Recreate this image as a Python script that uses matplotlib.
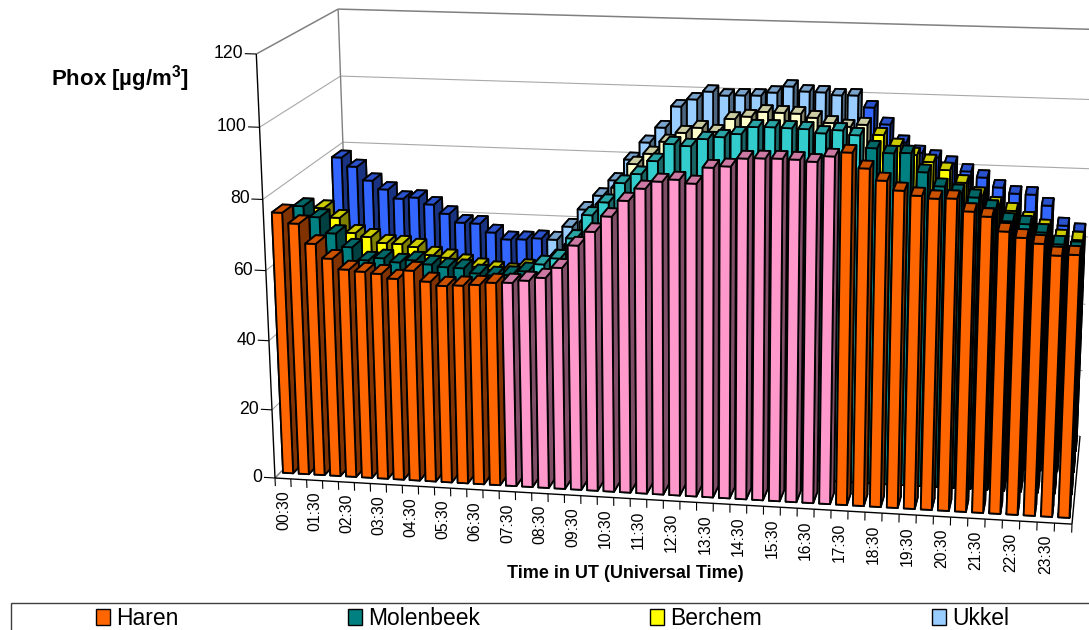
import numpy as np
import matplotlib
matplotlib.use('Agg')
import matplotlib.pyplot as plt
from matplotlib.patches import Patch, Rectangle
from mpl_toolkits.mplot3d.art3d import Line3DCollection

plt.rcParams['font.family'] = ['Liberation Sans', 'DejaVu Sans']
plt.rcParams['mathtext.fontset'] = 'custom'
plt.rcParams['mathtext.bf'] = 'Liberation Sans:bold'

# ---- data (µg/m³, one value per half hour, 00:30 ... 24:00) ----
haren = [75.3,72.4,66.9,62.9,60.0,59.6,59.2,58.0,60.5,57.6,56.6,56.9,57.3,58.1,58.3,59.1,60.1,63.1,69.5,73.5,77.9,82.4,85.9,88.0,88.7,87.8,92.3,92.8,95.1,95.3,95.4,95.3,94.9,96.5,97.7,93.6,90.5,88.0,86.8,86.2,86.4,83.1,81.9,78.1,76.6,75.2,72.2,72.6]
molenbeek = [72.7,69.7,65.2,61.4,57.8,58.6,57.6,58.4,57.4,56.8,56.7,55.4,55.0,55.3,56.6,58.8,60.7,66.6,73.4,77.2,82.8,85.5,89.3,94.2,93.8,95.9,96.6,97.6,99.7,99.8,99.7,99.6,98.6,99.6,98.4,95.0,93.8,94.0,88.9,85.2,83.7,82.5,79.7,76.3,75.7,73.6,70.5,69.1]
berchem = [67.7,65.0,60.7,59.7,58.1,58.0,57.3,55.1,54.5,53.2,52.2,51.5,51.1,52.5,53.3,55.8,59.8,66.7,71.9,77.0,84.0,87.1,90.7,93.4,95.0,94.0,97.8,98.6,100.1,100.0,99.9,98.9,97.6,96.7,97.4,94.7,91.8,89.4,87.6,85.5,82.1,78.8,76.2,74.7,72.3,70.3,67.6,67.2]
ukkel = [78.5,75.9,71.9,69.4,66.8,67.3,65.4,62.8,60.3,60.2,57.7,55.8,56.0,56.5,56.3,60.4,65.7,70.0,74.7,81.0,86.2,90.7,97.0,99.2,101.6,100.6,100.8,100.9,101.9,103.8,102.5,102.4,101.7,101.8,98.5,93.8,88.8,86.0,84.8,83.2,81.1,79.5,76.8,75.2,75.1,72.1,66.5,65.0]
series_names = ['Haren', 'Molenbeek', 'Berchem', 'Ukkel']
series_values = [haren, molenbeek, berchem, ukkel]
base_colors = ['#FF6600', '#008080', '#FFFF00', '#3366FF']
day_colors = ['#FF99CC', '#33CCCC', '#FFFFCC', '#99CCFF']
day_ranges = [(14, 33), (15, 34), (15, 34), (14, 33)]
legend_colors = ['#FF6600', '#008080', '#FFFF00', '#99CCFF']
y_ticks = list(range(0, 121, 20))
x_labels = [f'{h:02d}:30' for h in range(24)]

# ---- perspective camera fitted to the Excel 3-D view ----
A = np.array([275., 478.]); C = np.array([1072., 525.]); F = np.array([352., 400.]); B_y = 54.
VX = np.array([-14900., -400.]); VY = np.array([1160., -442.]); VZ = np.array([695., 10000.])
a = (C - A)[0] / (VX - C)[0]
b = (F - A)[0] / (VY - F)[0]
c = (B_y - A[1]) / (VZ[1] - B_y)
NX, NY, NZ = 48., 4., 120.
M = np.array([[a*VX[0]/NX, b*VY[0]/NY, c*VZ[0]/NZ, A[0]],
              [a*VX[1]/NX, b*VY[1]/NY, c*VZ[1]/NZ, A[1]],
              [a/NX, b/NY, c/NZ, 0.],
              [a/NX, b/NY, c/NZ, 1.]])
BW, BD = 0.64, 0.5
OX, OY = (1-BW)/2, (1-BD)/2

def proj(x, y, z):
    v = M @ np.array([x, y, z, 1.])
    return v[0]/v[3], v[1]/v[3]

fig = plt.figure(figsize=(10.89, 6.3), dpi=100)
ax = fig.add_axes([0, 0, 1, 1], projection='3d')
ax.get_proj = lambda: M
ax.apply_aspect = lambda position=None: None
ax.set_axis_off()
ax.computed_zorder = False
ax.viewLim.intervalx = (0, 1089)
ax.viewLim.intervaly = (630, 0)

def seg(pts, color, lw, z=1):
    ax.add_collection3d(Line3DCollection(pts, colors=color, linewidths=lw, zorder=z))

def shades(col):
    r = np.array(matplotlib.colors.to_rgb(col))
    return r, r*.8, r*.5

for s in [3, 2, 1, 0]:
    i0, i1 = day_ranges[s]
    for i, v in enumerate(series_values[s]):
        f, t, d = shades(day_colors[s] if i0 <= i <= i1 else base_colors[s])
        col = ax.bar3d([i+OX], [s+OY], [0], [BW], [BD], [v], color=[d, t, f, d, d, d],
                       shade=False, edgecolor='k', linewidth=1.3)
        col.set_zorder(10 + (3-s)*100 + i)

for z in y_ticks:
    g = '#808080' if z == 120 else '#a8a8a8'
    lw = 1.1 if z == 120 else .8
    seg([[(0, 0, z), (0, 4, z)], [(0, 4, z), (48, 4, z)]], g, lw)
    seg([[(-.7, 0, z), (0, 0, z)]], 'k', .8, 2)
    px, py = proj(-.8, 0, z)
    ax.text2D(px, py, str(z), transform=ax.transData, ha='right', va='center', fontsize=12.7)
seg([[(0, 4, 0), (0, 4, 120)], [(0, 0, 0), (0, 4, 0)]], '#808080', 1)
seg([[(0, 0, 0), (0, 0, 120)], [(0, 0, 0), (48, 0, 0)], [(48, 0, 0), (48, 4, 0)]], 'k', 1, 2)
seg([[(i, 0, 0), (i, 0, -2.4)] for i in range(49)], 'k', .8, 2)
for k, lab in enumerate(x_labels):
    px, py = proj(2*k+.5, 0, -3.4)
    ax.text2D(px, py, lab, transform=ax.transData, rotation=90, ha='center', va='top', fontsize=11.3)

fig.text(51/1089, 1-86/630, 'Phox [µg/m$^{\\mathbf{3}}$]', fontsize=16, fontweight='bold', ha='left', va='baseline')
fig.text(625/1089, 1-573/630, 'Time in UT (Universal Time)', fontsize=13, fontweight='bold', ha='center', va='center')
fig.add_artist(Rectangle((10.5/1089, -.1), 1.2, (1-602.5/630)+.1, transform=fig.transFigure,
                         fill=False, ec='#404040', lw=1))
h = [Patch(fc=col, ec='k', lw=1) for col in legend_colors]
fig.legend(h, series_names, ncols=4, loc='upper left', bbox_to_anchor=(96/1089, 1-607/630),
           frameon=False, fontsize=16.5, borderpad=0, borderaxespad=0, handlelength=.61,
           handleheight=.655, handletextpad=.26, columnspacing=7.42)
fig.savefig('out.png', dpi=100)
